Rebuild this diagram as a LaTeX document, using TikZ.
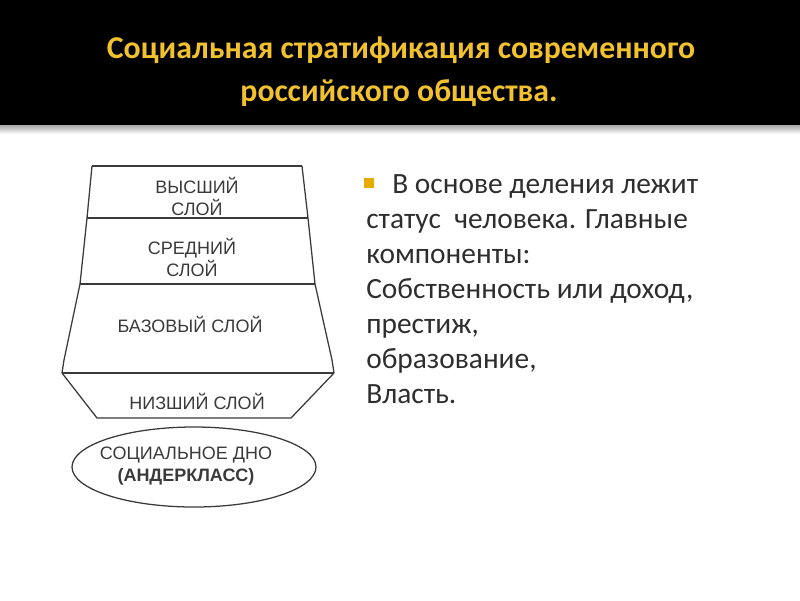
\documentclass[tikz,border=0pt]{standalone}
\usepackage{fontspec}
\setmainfont{Carlito}
\newfontfamily\diagfont{Liberation Sans}
\usetikzlibrary{positioning}
\definecolor{titleyellow}{HTML}{F2C12E}
\definecolor{bulletyellow}{HTML}{E6AC00}
\definecolor{bodygray}{HTML}{2E2E2E}
\definecolor{linegray}{HTML}{3A3A3A}

\begin{document}
\begin{tikzpicture}[x=0.025cm, y=-0.025cm,
  titleline/.style={anchor=base, font=\bfseries\fontsize{22.6}{28}\selectfont, text=titleyellow, inner sep=0pt},
  bodyline/.style={anchor=base west, font=\fontsize{20.9}{25}\selectfont, text=bodygray, inner sep=0pt},
  layerlabel/.style={font=\diagfont\fontsize{12.8}{15.6}\selectfont, text=linegray, align=center, inner sep=0pt},
  outline/.style={draw=linegray, line width=0.9pt}]
\useasboundingbox (0,0) rectangle (800,600);

% Header
\fill[black] (0,0) rectangle (800,125);
\shade[top color=gray!70, bottom color=white] (0,125) rectangle (800,134);
\node[titleline] (title1) at (401,58) {Социальная стратификация современного};
\node[titleline] (title2) at (399,101) {российского общества.};

% Strata
\draw[outline] (92,166) -- (302,166);
\draw[outline] (92,166) -- (87,218) -- (80,284) -- (64,360) -- (62,373);
\draw[outline] (302,166) -- (308,218) -- (315,284) -- (332,360) -- (334,373);
\draw[outline] (87,218) -- (308,218);
\draw[outline] (80,284) -- (315,284);
\draw[outline] (62,373) -- (334,373);
\draw[outline] (62,373) -- (97,418) -- (291,418) -- (334,373);
\node[layerlabel] (upper) at (197,196) {ВЫСШИЙ\\СЛОЙ};
\node[layerlabel] (middle) at (192,257) {СРЕДНИЙ\\СЛОЙ};
\node[layerlabel] (base) at (190,324) {БАЗОВЫЙ СЛОЙ};
\node[layerlabel] (lower) at (197,401) {НИЗШИЙ СЛОЙ};

% Social bottom
\draw[outline] (194,467) ellipse (122 and 40);
\node[layerlabel] (bottom) at (186,466) {СОЦИАЛЬНОЕ ДНО\\\textbf{(АНДЕРКЛАСС)}};

% Text
\fill[bulletyellow] (364,178) rectangle (374,188);
\node[bodyline] (line1) at (392,193) {В основе деления лежит};
\node[bodyline] (line2) at (366,228) {статус\ \ человека. Главные};
\node[bodyline] (line3) at (366,263) {компоненты:};
\node[bodyline] (line4) at (366,298) {Собственность или доход,};
\node[bodyline] (line5) at (366,333) {престиж,};
\node[bodyline] (line6) at (366,368) {образование,};
\node[bodyline] (line7) at (366,403) {Власть.};
\end{tikzpicture}
\end{document}
